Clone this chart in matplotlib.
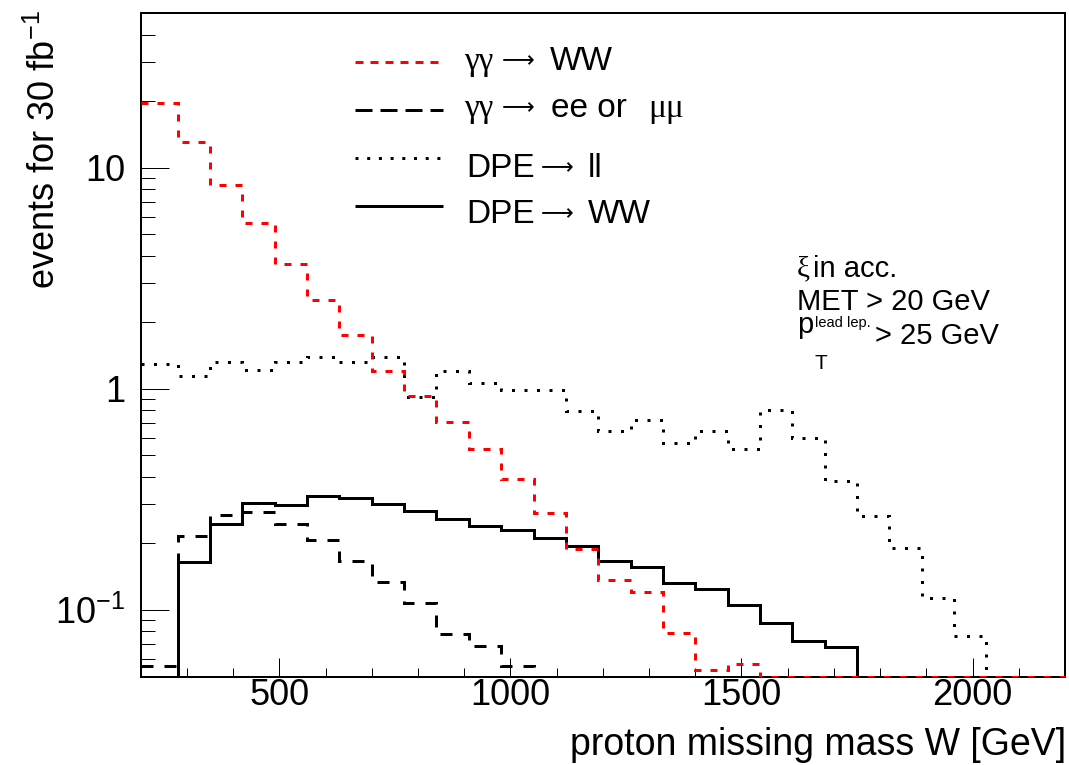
import numpy as np
import matplotlib
matplotlib.use('Agg')
import matplotlib.pyplot as plt
from matplotlib.ticker import FixedLocator, MultipleLocator, NullFormatter, FixedFormatter
from matplotlib.lines import Line2D

# ---------------- data ----------------
bin_edges = [200, 280, 350, 420, 490, 560, 630, 700, 770, 840, 910, 980, 1050,
             1120, 1190, 1260, 1330, 1400, 1470, 1540, 1610, 1680, 1750, 1820,
             1890, 1960, 2030, 2100, 2170, 2200]

gg_ww = [19.6, 13.1, 8.34, 5.6, 3.67, 2.52, 1.75, 1.20, 0.93, 0.707, 0.535, 0.39,
         0.275, 0.189, 0.137, 0.12, 0.079, 0.0535, 0.0567,
         0, 0, 0, 0, 0, 0, 0, 0, 0, 0]
gg_ll = [0.056, 0.216, 0.269, 0.277, 0.246, 0.208, 0.167, 0.134, 0.108, 0.078,
         0.0687, 0.0557,
         0, 0, 0, 0, 0, 0, 0, 0, 0, 0, 0, 0, 0, 0, 0, 0, 0]
dpe_ww = [0, 0.164, 0.246, 0.305, 0.297, 0.327, 0.322, 0.30, 0.281, 0.258, 0.241,
          0.229, 0.212, 0.194, 0.166, 0.156, 0.133, 0.124, 0.105, 0.087, 0.0723,
          0.068, 0, 0, 0, 0, 0, 0, 0]
dpe_ll = [1.29, 1.145, 1.33, 1.22, 1.33, 1.40, 1.33, 1.40, 0.923, 1.21, 1.06, 0.99,
          0.99, 0.796, 0.646, 0.722, 0.569, 0.646, 0.534, 0.80, 0.599, 0.382,
          0.265, 0.191, 0.1135, 0.076, 0, 0, 0]

x_range = (200, 2200)
y_range = (0.05, 50)
y_major = [0.1, 1, 10]
y_major_labels = [r'$\mathregular{10^{-1}}$', '1', '10']
y_minor = [0.06, 0.07, 0.08, 0.09, 0.2, 0.3, 0.4, 0.5, 0.6, 0.7, 0.8, 0.9,
           2, 3, 4, 5, 6, 7, 8, 9, 20, 30, 40]

# ---------------- style ----------------
plt.rcParams['font.family'] = ['Liberation Sans', 'DejaVu Sans']
plt.rcParams['mathtext.fontset'] = 'custom'
plt.rcParams['mathtext.rm'] = 'Liberation Sans'
plt.rcParams['mathtext.it'] = 'Liberation Sans:italic'
plt.rcParams['mathtext.bf'] = 'Liberation Sans:bold'
plt.rcParams['lines.scale_dashes'] = False

W, H = 1069, 765
PX = 72.0 / 100.0  # points per pixel

fig = plt.figure(figsize=(W / 100, H / 100), dpi=100)
ax_l, ax_r, ax_t, ax_b = 140.7, 1065.0, 13.3, 676.5
ax = fig.add_axes([ax_l / W, 1 - ax_b / H, (ax_r - ax_l) / W, (ax_b - ax_t) / H])

lw = 3 * PX
red_dash = (0, (7 * PX, 9 * PX))
long_dash = (0, (12 * PX, 11 * PX))
dots = (0, (3 * PX, 9.5 * PX))

ymin = y_range[0]
def clip(v):
    return np.clip(np.asarray(v, dtype=float), ymin, None)

ax.stairs(clip(dpe_ww), bin_edges, baseline=None, color='black', linewidth=lw,
          linestyle='-', zorder=3)
ax.stairs(clip(dpe_ll), bin_edges, baseline=None, color='black', linewidth=lw,
          linestyle=dots, capstyle='butt', zorder=3)
ax.stairs(clip(gg_ll), bin_edges, baseline=None, color='black', linewidth=lw,
          linestyle=long_dash, capstyle='butt', zorder=3)
ax.stairs(clip(gg_ww), bin_edges, baseline=None, color='#ff0000', linewidth=lw,
          linestyle=red_dash, capstyle='butt', zorder=4)

ax.set_xlim(*x_range)
ax.set_yscale('log')
ax.set_ylim(*y_range)

ax.xaxis.set_major_locator(MultipleLocator(500))
ax.xaxis.set_minor_locator(MultipleLocator(100))
ax.yaxis.set_major_locator(FixedLocator(y_major))
ax.yaxis.set_major_formatter(FixedFormatter(y_major_labels))
ax.yaxis.set_minor_locator(FixedLocator(y_minor))
ax.yaxis.set_minor_formatter(NullFormatter())

for s in ax.spines.values():
    s.set_linewidth(2 * PX)
ax.tick_params(axis='both', which='both', direction='in', top=False, right=False,
               width=1 * PX, labelsize=26)
ax.tick_params(axis='x', which='major', length=19 * PX, pad=1)
ax.tick_params(axis='x', which='minor', length=9.5 * PX)
ax.tick_params(axis='y', which='major', length=28 * PX, pad=11)
ax.tick_params(axis='y', which='minor', length=14 * PX)

# axis titles
fig.text(1066 / W, 1 - 755 / H, 'proton missing mass W [GeV]', ha='right',
         va='baseline', fontsize=27)
fig.text(45 / W, 1 - 10 / H, r'events for 30 fb$^{\mathregular{-1}}$', rotation=90,
         ha='center', va='top', fontsize=26)

# legend (manual, ROOT-like)
def fx(px):
    return px / W
def fy(py):
    return 1 - py / H

renderer = fig.canvas.get_renderer()
def right_px(t):
    bb = t.get_window_extent(renderer=renderer)
    return bb.x1

leg_x0, leg_x1 = 355, 443
rows = [
    (62.3, '#ff0000', (0, (8 * PX, 7 * PX))),
    (110.0, 'black', (0, (17 * PX, 8 * PX))),
    (157.7, 'black', (0, (3 * PX, 8.7 * PX))),
    (205.7, 'black', '-'),
]
for yy, col, ls in rows:
    fig.add_artist(Line2D([fx(leg_x0), fx(leg_x1)], [fy(yy), fy(yy)], color=col,
                          linewidth=lw, linestyle=ls, solid_capstyle='butt',
                          dash_capstyle='butt', transform=fig.transFigure))

leg_fs = 24
greek = ['Liberation Serif', 'DejaVu Serif']
arrow_fam = ['DejaVu Sans']
arrow = '⟶'
arrow_fs = 16.5
# row 1
fig.text(fx(464), fy(70), 'γγ', fontsize=leg_fs, family=greek, va='baseline')
fig.text(fx(502), fy(67), arrow, fontsize=arrow_fs, family=arrow_fam, va='baseline')
fig.text(fx(550), fy(70), 'WW', fontsize=leg_fs, va='baseline')
# row 2
fig.text(fx(464), fy(117.3), 'γγ', fontsize=leg_fs, family=greek, va='baseline')
fig.text(fx(502), fy(114.3), arrow, fontsize=arrow_fs, family=arrow_fam, va='baseline')
fig.text(fx(551), fy(117.3), 'ee or', fontsize=leg_fs, va='baseline')
fig.text(fx(648), fy(117.3), 'μμ', fontsize=leg_fs, family=greek, va='baseline')
# row 3
fig.text(fx(466), fy(176.7), 'DPE', fontsize=leg_fs, va='baseline')
fig.text(fx(541), fy(173.7), arrow, fontsize=arrow_fs, family=arrow_fam, va='baseline')
fig.text(fx(588), fy(176.7), 'll', fontsize=leg_fs, va='baseline')
# row 4
fig.text(fx(466), fy(223.3), 'DPE', fontsize=leg_fs, va='baseline')
fig.text(fx(541), fy(220.3), arrow, fontsize=arrow_fs, family=arrow_fam, va='baseline')
fig.text(fx(588), fy(223.3), 'WW', fontsize=leg_fs, va='baseline')

# cut annotations
ann_fs = 21
fig.text(fx(797), fy(276.7), 'ξ', fontsize=ann_fs, family=greek, va='baseline')
fig.text(fx(813), fy(276.7), 'in acc.', fontsize=ann_fs, va='baseline')
fig.text(fx(797), fy(310.0), 'MET > 20 GeV', fontsize=ann_fs, va='baseline')
tp = fig.text(fx(797), fy(333.3), 'p', fontsize=ann_fs, va='baseline')
p_end = right_px(tp)
ts = fig.text(p_end / W + 1.5 / W, fy(326.5), 'lead lep.', fontsize=10.5, va='baseline')
fig.text(p_end / W + 1.5 / W, fy(368.5), 'T', fontsize=15, va='baseline')
s_end = right_px(ts)
fig.text(s_end / W + 5 / W, fy(344.3), '> 25 GeV', fontsize=ann_fs, va='baseline')

fig.savefig('out.png', dpi=100)
